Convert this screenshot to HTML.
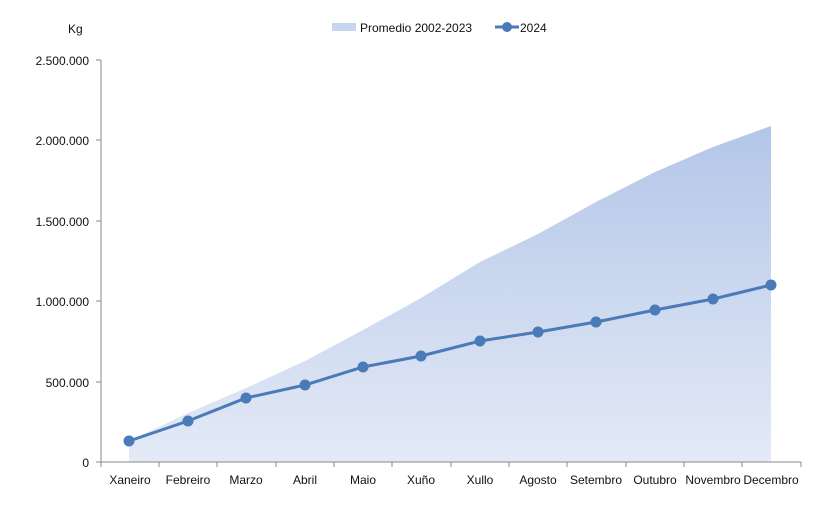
<!DOCTYPE html>
<html><head><meta charset="utf-8"><style>
body{margin:0;background:#fff}
svg text{font-family:"Liberation Sans",sans-serif;font-size:12px;fill:#111}
</style></head><body>
<svg width="830" height="522" xmlns="http://www.w3.org/2000/svg">
<defs><linearGradient id="g" x1="0" y1="0" x2="0" y2="1">
<stop offset="0" stop-color="#b3c6e8"/><stop offset="1" stop-color="#e4eaf6"/></linearGradient></defs>
<text x="68" y="33" font-size="13">Kg</text>
<rect x="332" y="23" width="24" height="8" fill="#c7d5ee"/>
<text x="360" y="32">Promedio 2002-2023</text>
<line x1="495" y1="27" x2="519" y2="27" stroke="#4a7ab8" stroke-width="3"/>
<circle cx="507" cy="27" r="5" fill="#4a7ab8"/>
<text x="520" y="32">2024</text>
<path d="M129,462 L129,441 L188,413 L246,388 L305,361 L363,330 L421,298 L480,262 L538,234 L596,202 L655,172 L713,147 L771,126 L771,462 Z" fill="url(#g)"/>
<g stroke="#888" stroke-width="1">
<line x1="101" y1="60" x2="101" y2="462"/>
<line x1="101" y1="462" x2="801" y2="462"/>
<line x1="96" y1="60" x2="101" y2="60"/><line x1="96" y1="140" x2="101" y2="140"/><line x1="96" y1="221" x2="101" y2="221"/><line x1="96" y1="301" x2="101" y2="301"/><line x1="96" y1="382" x2="101" y2="382"/><line x1="96" y1="462" x2="101" y2="462"/>
<line x1="101" y1="462" x2="101" y2="467"/><line x1="159" y1="462" x2="159" y2="467"/><line x1="217" y1="462" x2="217" y2="467"/><line x1="276" y1="462" x2="276" y2="467"/><line x1="334" y1="462" x2="334" y2="467"/><line x1="392" y1="462" x2="392" y2="467"/><line x1="451" y1="462" x2="451" y2="467"/><line x1="509" y1="462" x2="509" y2="467"/><line x1="567" y1="462" x2="567" y2="467"/><line x1="626" y1="462" x2="626" y2="467"/><line x1="684" y1="462" x2="684" y2="467"/><line x1="742" y1="462" x2="742" y2="467"/><line x1="801" y1="462" x2="801" y2="467"/>
</g>
<g text-anchor="end">
<text x="89" y="65">2.500.000</text><text x="89" y="145">2.000.000</text><text x="89" y="226">1.500.000</text><text x="89" y="306">1.000.000</text><text x="89" y="387">500.000</text><text x="89" y="467">0</text>
</g>
<g text-anchor="middle">
<text x="130" y="484">Xaneiro</text><text x="188" y="484">Febreiro</text><text x="246" y="484">Marzo</text><text x="305" y="484">Abril</text><text x="363" y="484">Maio</text><text x="421" y="484">Xuño</text><text x="480" y="484">Xullo</text><text x="538" y="484">Agosto</text><text x="596" y="484">Setembro</text><text x="655" y="484">Outubro</text><text x="713" y="484">Novembro</text><text x="771" y="484">Decembro</text>
</g>
<polyline points="129,441 188,421 246,398 305,385 363,367 421,356 480,341 538,332 596,322 655,310 713,299 771,285" fill="none" stroke="#4a7ab8" stroke-width="3"/>
<g fill="#4a7ab8">
<circle cx="129" cy="441" r="5.5"/><circle cx="188" cy="421" r="5.5"/><circle cx="246" cy="398" r="5.5"/><circle cx="305" cy="385" r="5.5"/><circle cx="363" cy="367" r="5.5"/><circle cx="421" cy="356" r="5.5"/><circle cx="480" cy="341" r="5.5"/><circle cx="538" cy="332" r="5.5"/><circle cx="596" cy="322" r="5.5"/><circle cx="655" cy="310" r="5.5"/><circle cx="713" cy="299" r="5.5"/><circle cx="771" cy="285" r="5.5"/>
</g>
</svg>
</body></html>
